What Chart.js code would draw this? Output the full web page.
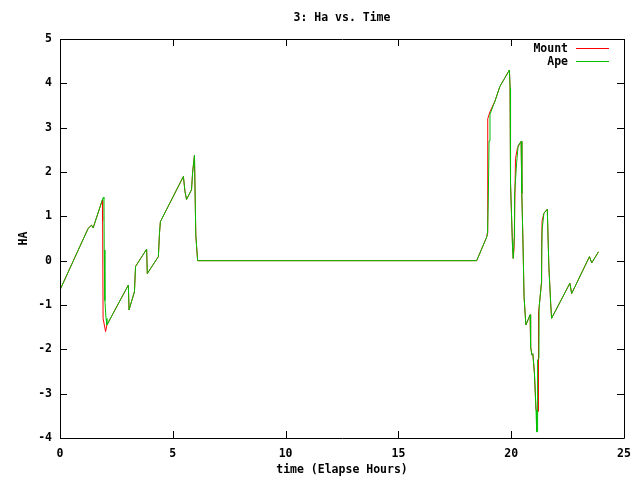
<!DOCTYPE html>
<html>
<head>
<meta charset="utf-8">
<script src="https://cdn.jsdelivr.net/npm/chart.js@4"></script>
<style>
  html, body { margin: 0; padding: 0; background: #fff; }
  #wrap { width: 640px; height: 480px; }
</style>
</head>
<body>
<div id="wrap"><canvas id="chart" width="640" height="480"></canvas></div>
<script>
const titleText = '3: Ha vs. Time'
const xTitle = 'time (Elapse Hours)'
const yTitle = 'HA'
const seriesNames = ['Mount', 'Ape']

const apeHours = [0, 1.25, 1.4, 1.47, 1.85, 1.92, 1.95, 1.96, 1.99, 2.04, 2.08, 3.03, 3.06, 3.3, 3.35, 3.84, 3.87, 4.36, 4.41, 4.45, 5.47, 5.54, 5.61, 5.83, 5.88, 5.96, 6.02, 6.1,
  18.47, 18.92, 18.95, 18.98, 19.02, 19.06, 19.28, 19.5, 19.92, 19.95, 19.97, 20.06, 20.09, 20.13, 20.15, 20.24, 20.31, 20.44, 20.47, 20.52, 20.57, 20.65,
  20.84, 20.86, 20.92, 20.96, 21.03, 21.1, 21.13, 21.16, 21.17, 21.23, 21.24, 21.34, 21.37, 21.45, 21.6, 21.67, 21.75, 21.79, 22.6, 22.68, 23.47, 23.57, 23.87]
const apeHa = [-0.66, 0.73, 0.8, 0.74, 1.33, 1.43, 1.4, 0.24, -0.9, -1.3, -1.45, -0.55, -1.11, -0.7, -0.13, 0.26, -0.29, 0.09, 0.62, 0.88, 1.9, 1.56, 1.38, 1.6, 2.0, 2.38, 0.58, 0.0,
  0.0, 0.54, 0.62, 1.25, 2.7, 3.3, 3.6, 3.93, 4.3, 3.9, 1.75, 0.3, 0.05, 0.5, 1.5, 2.2, 2.6, 2.69, 1.52, 0.47, -0.81, -1.45,
  -1.22, -1.94, -2.13, -2.1, -2.54, -3.37, -3.86, -3.86, -2.24, -2.2, -1.04, -0.51, 0.69, 1.07, 1.16, -0.14, -0.96, -1.3, -0.51, -0.74, 0.09, -0.05, 0.2]

const mountHours = [0, 1.25, 1.4, 1.47, 1.85, 1.88, 1.89, 1.91, 2.02, 2.08, 3.03, 3.06, 3.3, 3.35, 3.84, 3.87, 4.36, 4.41, 4.45, 5.47, 5.54, 5.61, 5.83, 5.88, 5.96, 6.02, 6.1,
  18.47, 18.92, 18.94, 18.96, 19.06, 19.28, 19.5, 19.92, 19.95, 19.97, 20.06, 20.09, 20.13, 20.19, 20.28, 20.44, 20.47, 20.52, 20.57, 20.65,
  20.84, 20.86, 20.92, 20.96, 21.03, 21.1, 21.2, 21.21, 21.24, 21.34, 21.35, 21.37, 21.45, 21.6, 21.67, 21.75, 21.79, 22.6, 22.68, 23.47, 23.57, 23.87]
const mountHa = [-0.66, 0.73, 0.8, 0.74, 1.33, 1.37, 0.9, -1.3, -1.6, -1.45, -0.55, -1.11, -0.7, -0.13, 0.26, -0.29, 0.09, 0.62, 0.88, 1.9, 1.56, 1.38, 1.6, 2.0, 2.38, 0.58, 0.0,
  0.0, 0.54, 0.62, 3.2, 3.36, 3.6, 3.93, 4.3, 3.9, 1.75, 0.3, 0.05, 0.3, 2.3, 2.55, 2.69, 1.52, 0.47, -0.81, -1.45,
  -1.22, -1.94, -2.13, -2.1, -2.54, -3.37, -3.4, -1.15, -1.04, -0.51, 0.3, 0.9, 1.07, 1.16, -0.14, -0.96, -1.3, -0.51, -0.74, 0.09, -0.05, 0.2]

const xTicks = [0, 5, 10, 15, 20, 25]
const yTicks = [-4, -3, -2, -1, 0, 1, 2, 3, 4, 5]

const colors = ['#ff0000', '#00c000']
const font = { family: "'DejaVu Sans Mono', monospace", size: 11.5, weight: 'bold' }
const fontStr = "bold 11.5px 'DejaVu Sans Mono', monospace"

function pts(xs, ys) {
  return xs.map((x, i) => ({ x: x, y: ys[i] }))
}

// gnuplot-like frame: box border, inward ticks on all sides, labels, legend
const gnuplotFrame = {
  id: 'gnuplotFrame',
  afterDraw(chart) {
    const ctx = chart.ctx
    const a = chart.chartArea
    const xs = chart.scales.x
    const ys = chart.scales.y
    ctx.save()
    ctx.strokeStyle = '#000'
    ctx.lineWidth = 1
    ctx.beginPath()
    ctx.rect(Math.round(a.left) + 0.5, Math.round(a.top) + 0.5, Math.round(a.right - a.left), Math.round(a.bottom - a.top))
    xTicks.forEach(t => {
      const px = Math.round(xs.getPixelForValue(t)) + 0.5
      ctx.moveTo(px, a.bottom); ctx.lineTo(px, a.bottom - 7)
      ctx.moveTo(px, a.top); ctx.lineTo(px, a.top + 7)
    })
    yTicks.forEach(t => {
      const py = Math.round(ys.getPixelForValue(t)) + 0.5
      ctx.moveTo(a.left, py); ctx.lineTo(a.left + 7, py)
      ctx.moveTo(a.right, py); ctx.lineTo(a.right - 7, py)
    })
    ctx.stroke()

    ctx.fillStyle = '#000'
    ctx.font = fontStr
    ctx.textAlign = 'center'
    ctx.textBaseline = 'middle'
    ctx.fillText(titleText, (a.left + a.right) / 2, 18)
    ctx.fillText(xTitle, (a.left + a.right) / 2, 470)
    ctx.save()
    ctx.translate(24, (a.top + a.bottom) / 2)
    ctx.rotate(-Math.PI / 2)
    ctx.fillText(yTitle, 0, 0)
    ctx.restore()

    ctx.textAlign = 'right'
    seriesNames.forEach((name, i) => {
      const y = 49 + i * 13
      ctx.fillStyle = '#000'
      ctx.fillText(name, 568, y)
      ctx.strokeStyle = colors[i]
      ctx.beginPath()
      ctx.moveTo(576, y - 0.5)
      ctx.lineTo(609, y - 0.5)
      ctx.stroke()
    })
    ctx.restore()
  }
}

new Chart(document.getElementById('chart'), {
  type: 'line',
  data: {
    datasets: [
      { label: seriesNames[0], data: pts(mountHours, mountHa), borderColor: colors[0], order: 2 },
      { label: seriesNames[1], data: pts(apeHours, apeHa), borderColor: colors[1], order: 1 }
    ]
  },
  options: {
    responsive: false,
    animation: false,
    devicePixelRatio: 1,
    layout: { padding: { top: 39, right: 16, left: 0, bottom: 0 } },
    elements: {
      point: { radius: 0 },
      line: { borderWidth: 1, tension: 0, fill: false }
    },
    plugins: {
      legend: { display: false },
      title: { display: false },
      tooltip: { enabled: false }
    },
    scales: {
      x: {
        type: 'linear',
        min: 0,
        max: 25,
        afterFit(scale) { scale.height = 42 },
        afterBuildTicks(scale) { scale.ticks = xTicks.map(v => ({ value: v })) },
        grid: { display: false, drawTicks: false },
        border: { display: false },
        ticks: { color: '#000', font: font, padding: 9, maxRotation: 0 }
      },
      y: {
        type: 'linear',
        min: -4,
        max: 5,
        afterFit(scale) { scale.width = 60 },
        afterBuildTicks(scale) { scale.ticks = yTicks.map(v => ({ value: v })) },
        grid: { display: false, drawTicks: false },
        border: { display: false },
        ticks: { color: '#000', font: font, padding: 8 }
      }
    }
  },
  plugins: [gnuplotFrame]
})
</script>
</body>
</html>
